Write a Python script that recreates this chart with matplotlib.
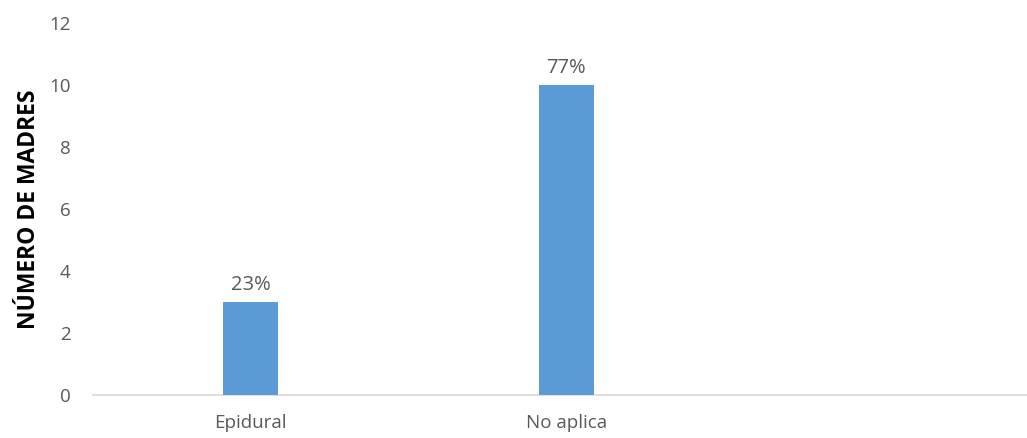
import matplotlib
matplotlib.use("Agg")
import matplotlib.pyplot as plt

categories = ["Epidural", "No aplica", ""]
values = [3, 10, None]
labels = ["23%", "77%", ""]

plt.rcParams['font.family'] = ['Open Sans', 'DejaVu Sans']

fig = plt.figure(figsize=(10.27, 4.38), dpi=100)
ax = fig.add_axes([92.75/1027, (438-395)/438, 1 - 92.75/1027, (395-23)/438])

xs = [i for i, v in enumerate(values) if v is not None]
vs = [v for v in values if v is not None]
bars = ax.bar(xs, vs, width=0.174, color="#5B9BD5", zorder=3)
for b, lab in zip(bars, labels):
    ax.annotate(lab, (b.get_x() + b.get_width()/2, b.get_height()),
                xytext=(0, 5), textcoords="offset points",
                ha="center", va="bottom", fontsize=14.5, color="#595959")

ax.set_xlim(-0.5, 2.46)
ax.set_ylim(0, 12)
ax.set_yticks([0, 2, 4, 6, 8, 10, 12])
ax.set_xticks(range(len(categories)))
ax.set_xticklabels(categories)
ax.tick_params(axis="both", length=0, labelsize=13.5, colors="#595959")
ax.tick_params(axis="y", pad=16)
ax.tick_params(axis="x", pad=14)
for s in ["top", "right", "left"]:
    ax.spines[s].set_visible(False)
ax.spines["bottom"].set_color("#D9D9D9")
ax.spines["bottom"].set_linewidth(1.2)
ax.set_ylabel("NÚMERO DE MADRES", fontsize=16.5, fontweight="bold", color="black")
ax.yaxis.set_label_coords(-0.0557, 0.5)

fig.savefig("out.png", dpi=100)
